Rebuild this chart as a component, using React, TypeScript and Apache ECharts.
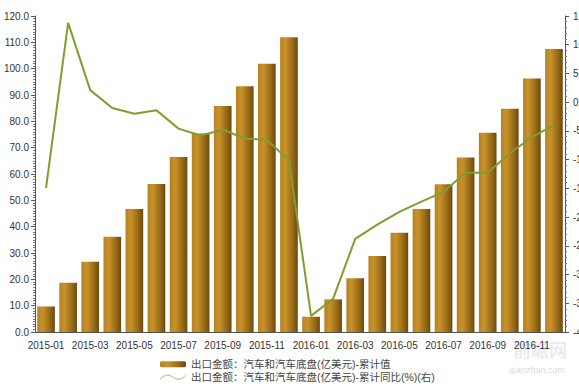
import React, { useEffect, useRef } from "react";
import * as echarts from "echarts";

const categories = [
  "2015-01", "2015-02", "2015-03", "2015-04", "2015-05", "2015-06",
  "2015-07", "2015-08", "2015-09", "2015-10", "2015-11", "2015-12",
  "2016-01", "2016-02", "2016-03", "2016-04", "2016-05", "2016-06",
  "2016-07", "2016-08", "2016-09", "2016-10", "2016-11", "2016-12",
];

const cumulativeValue = [
  9.7, 18.7, 26.7, 36.2, 46.7, 56.2, 66.5, 75.4, 85.8, 93.3, 101.9, 111.9,
  5.8, 12.4, 20.4, 28.9, 37.7, 46.7, 56.1, 66.3, 75.7, 84.8, 96.3, 107.5,
];

const cumulativeYoY = [
  -14.9, 13.8, 2.1, -1.0, -2.0, -1.4, -4.6, -5.8, -4.8, -6.3, -6.6, -10.1,
  -37.2, -34.2, -23.8, -21.3, -19.1, -17.3, -15.6, -12.3, -12.3, -8.9, -6.1, -4.0,
];

const barName = "出口金额：汽车和汽车底盘(亿美元)-累计值";
const lineName = "出口金额：汽车和汽车底盘(亿美元)-累计同比(%)(右)";

const waveIcon =
  "path://M0,7 C6,1 10,1 15,4.5 C20,8 24,8 30,2 L30,3.6 C24,9.6 20,9.6 15,6 C10,2.6 6,2.6 0,8.6 Z";

export default function App() {
  const ref = useRef<HTMLDivElement>(null);
  useEffect(() => {
    if (!ref.current) return;
    const chart = echarts.init(ref.current, undefined, { renderer: "svg" });
    const font = "Arial, 'Liberation Sans', 'Noto Sans CJK SC', sans-serif";
    const barGradient = new echarts.graphic.LinearGradient(0, 0, 1, 0, [
      { offset: 0, color: "#b7821e" },
      { offset: 0.3, color: "#c8922b" },
      { offset: 0.7, color: "#9a6c18" },
      { offset: 1, color: "#6a4a0e" },
    ]);
    const legendText = { fontSize: 10.5, color: "#444", fontFamily: font };
    chart.setOption({
      animation: false,
      backgroundColor: "#ffffff",
      textStyle: { fontFamily: font },
      grid: {
        left: 35,
        right: 14,
        top: 16,
        bottom: 57,
        containLabel: false,
        outerBoundsMode: "none",
      },
      legend: [
        {
          orient: "horizontal",
          left: 160,
          top: 359,
          padding: 0,
          itemWidth: 26,
          itemHeight: 6,
          itemGap: 6,
          textStyle: legendText,
          data: [barName],
        },
        {
          orient: "horizontal",
          left: 160,
          top: 372,
          padding: 0,
          itemWidth: 26,
          itemHeight: 9,
          itemGap: 6,
          textStyle: legendText,
          data: [{ name: lineName, icon: waveIcon, itemStyle: { color: "#b9cd92" } }],
        },
      ],
      xAxis: {
        type: "category",
        data: categories,
        boundaryGap: true,
        axisLine: { lineStyle: { color: "#555", width: 1 } },
        axisTick: { alignWithLabel: true, interval: 0, length: 4, lineStyle: { color: "#555" } },
        axisLabel: { interval: 1, fontSize: 10, color: "#333", margin: 8 },
        splitLine: { show: false },
      },
      yAxis: [
        {
          type: "value",
          min: 0,
          max: 120,
          interval: 10,
          position: "left",
          axisLine: { show: true, lineStyle: { color: "#555" } },
          axisTick: { show: true, length: 4, lineStyle: { color: "#555" } },
          minorTick: { show: true, splitNumber: 10, length: 2, lineStyle: { color: "#777" } },
          axisLabel: {
            fontSize: 10,
            color: "#333",
            margin: 6,
            formatter: (v: number) => v.toFixed(1),
          },
          splitLine: { show: false },
        },
        {
          type: "value",
          min: -40,
          max: 15,
          interval: 5,
          position: "right",
          axisLine: { show: true, lineStyle: { color: "#555" } },
          axisTick: { show: true, length: 4, lineStyle: { color: "#555" } },
          minorTick: { show: true, splitNumber: 5, length: 2, lineStyle: { color: "#777" } },
          axisLabel: { fontSize: 10, color: "#333", margin: 8 },
          splitLine: { show: false },
        },
      ],
      series: [
        {
          name: barName,
          type: "bar",
          yAxisIndex: 0,
          data: cumulativeValue,
          barWidth: "80%",
          itemStyle: { color: barGradient },
        },
        {
          name: lineName,
          type: "line",
          yAxisIndex: 1,
          data: cumulativeYoY,
          symbol: "none",
          lineStyle: { color: "#7f9e2e", width: 2 },
          itemStyle: { color: "#b9cd92" },
        },
      ],
      graphic: [
        {
          type: "text",
          right: 12,
          top: 340,
          style: {
            text: "前瞻网",
            fontSize: 18,
            fontWeight: "bold",
            fill: "rgba(130,150,200,0.2)",
            fontFamily: "'Noto Sans CJK SC', sans-serif",
          },
        },
        {
          type: "text",
          right: 14,
          top: 365,
          style: {
            text: "qianzhan.com",
            fontSize: 9,
            fill: "rgba(120,120,120,0.3)",
            fontFamily: font,
          },
        },
      ],
    });
    return () => chart.dispose();
  }, []);
  return (
    <div
      ref={ref}
      style={{ position: "fixed", left: 0, top: 0, width: 579, height: 389, overflow: "hidden" }}
    />
  );
}
